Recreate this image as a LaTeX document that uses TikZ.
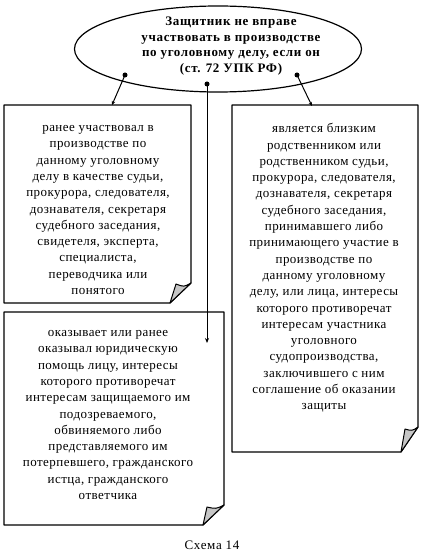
\documentclass[tikz,border=0pt]{standalone}
\usepackage{fontspec}
\setmainfont{Liberation Serif}
\usepackage{xcolor}
\usepackage{tikz}
\usetikzlibrary{arrows.meta,shapes}

\begin{document}
\begin{tikzpicture}[x=1pt,y=-1pt,>=Stealth,
 dot/.style={shape=circle,fill,inner sep=0pt,minimum size=5pt},
 txt/.style={align=center,font=\fontsize{13}{16.3}\selectfont\addfontfeature{LetterSpace=3.5}},
 flap/.style={fill=gray!45,line width=1pt,line join=round}]
\useasboundingbox (0,0) rectangle (422,553);
% head
\node[draw,shape=ellipse,line width=1.2pt,minimum width=287pt,minimum height=86pt,inner sep=0pt](head) at (218,49) {};
\node[align=center,font=\bfseries\fontsize{13}{15.5}\selectfont\addfontfeature{LetterSpace=5}](headtxt) at (231,46)
 {Защитник не вправе\\участвовать в производстве\\по уголовному делу, если он\\(ст. 72 УПК РФ)};
\node[dot](d1) at (125,75) {};
\node[dot](d2) at (207,84) {};
\node[dot](d3) at (297,75) {};
% boxes
\draw[line width=1.2pt,line join=round](4,105)--(191,105)--(191,283)--(170,303)--(4,303)--cycle;
\draw[flap](191,283)..controls(184,287)..(176,284)--(170,303)--cycle;
\draw[line width=1.2pt,line join=round](4,312)--(224,312)--(224,505)--(203,525)--(4,525)--cycle;
\draw[flap](224,505)..controls(216,509)..(207,507)--(203,525)--cycle;
\draw[line width=1.2pt,line join=round](232,105)--(418,105)--(418,427)--(401,452)--(232,452)--cycle;
\draw[flap](418,427)..controls(412,431)..(405,429)--(401,452)--cycle;
\coordinate (t1) at (112,105);
\coordinate (t2) at (207,343);
\coordinate (t3) at (312,106);
% texts
\node[txt](b1) at (98,210) {ранее участвовал в\\производстве по\\данному уголовному\\делу в качестве судьи,\\прокурора, следователя,\\дознавателя, секретаря\\судебного заседания,\\свидетеля, эксперта,\\специалиста,\\переводчика или\\понятого};
\node[txt](b2) at (108,415) {оказывает или ранее\\оказывал юридическую\\помощь лицу, интересы\\которого противоречат\\интересам защищаемого им\\подозреваемого,\\обвиняемого либо\\представляемого им\\потерпевшего, гражданского\\истца, гражданского\\ответчика};
\node[txt](b3) at (324,268) {является близким\\родственником или\\родственником судьи,\\прокурора, следователя,\\дознавателя, секретаря\\судебного заседания,\\принимавшего либо\\принимающего участие в\\производстве по\\данному уголовному\\делу, или лица, интересы\\которого противоречат\\интересам участника\\уголовного\\судопроизводства,\\заключившего с ним\\соглашение об оказании\\защиты};
% connectors
\draw[line width=1pt,-{Stealth[length=4pt,width=3.5pt]}](d1.center)--(t1);
\draw[line width=1pt,-{Stealth[length=5pt,width=4pt]}](d2.center)--(t2);
\draw[line width=1pt,-{Stealth[length=4pt,width=3.5pt]}](d3.center)--(t3);
\node[font=\fontsize{13}{15}\selectfont\addfontfeature{LetterSpace=5}](cap) at (212,545) {Схема 14};
\end{tikzpicture}
\end{document}
